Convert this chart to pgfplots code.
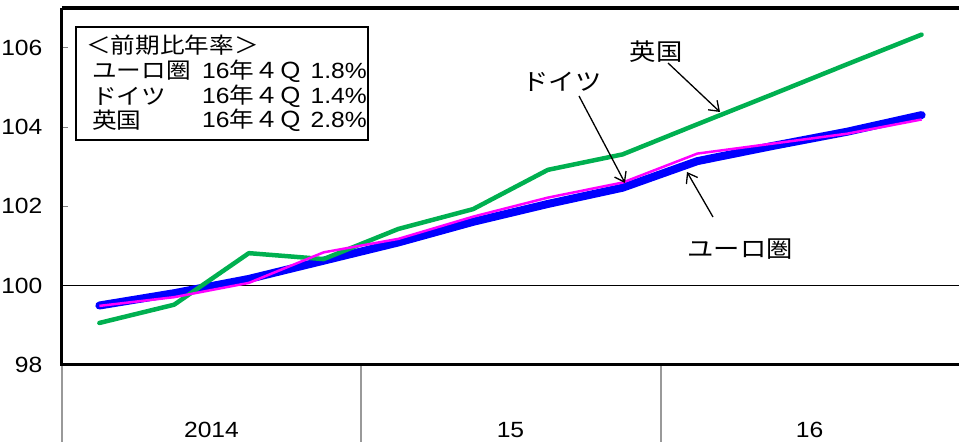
\documentclass[border=0pt]{standalone}
\usepackage{fontspec}
\setmainfont{Liberation Sans}
\newfontfamily\jp{Noto Sans CJK JP}
\usepackage{pgfplots}
\usepackage{pgfplotstable}
\pgfplotsset{compat=1.18}
\usetikzlibrary{arrows.meta}

\definecolor{ukgreen}{HTML}{00B050}
\definecolor{eublue}{HTML}{0000FF}
\definecolor{demag}{HTML}{FF00FF}
\newcommand\lf{\fontsize{22}{22}\selectfont}
\newcommand\af{\fontsize{23.5}{23.5}\selectfont}

% quarterly index, 2014Q1 ... 2016Q4
\pgfplotstableread{
x    ea     de     uk
0.5  99.50  99.49  99.06
1.5  99.81  99.71  99.52
2.5  100.17 100.07 100.82
3.5  100.63 100.84 100.67
4.5  101.09 101.18 101.43
5.5  101.61 101.74 101.93
6.5  102.06 102.22 102.92
7.5  102.47 102.60 103.31
8.5  103.14 103.33 104.07
9.5  103.52 103.58 104.82
10.5 103.88 103.83 105.58
11.5 104.30 104.19 106.33
}\data

\begin{document}
\begin{tikzpicture}[x=1pt,y=1pt]
\useasboundingbox (-62,-77) rectangle (897,365);
\begin{axis}[
  at={(0,0)}, anchor=south west,
  scale only axis, width=897pt, height=357pt,
  xmin=0, xmax=12, ymin=98, ymax=107,
  axis line style={draw=none},
  xtick={2,6,10}, xticklabels={2014,15,16},
  xtick style={draw=none},
  xticklabel style={anchor=base, yshift=-72pt},
  ytick={98,100,102,104,106},
  ytick pos=left,
  ytick style={gray, line width=1pt},
  major tick length=6pt,
  tick align=inside,
  yticklabel style={anchor=east, xshift=-14pt},
  tick label style={font=\lf, xscale=1.12},
  /pgf/number format/assume math mode=true,
  clip=false,
]
\draw[black, line width=1.3pt] (axis cs:0,100) -- (axis cs:12,100);
\addplot[eublue, mark=none, line width=8pt, line cap=round, line join=round] table[x=x,y=ea]{\data};
\addplot[ukgreen, mark=none, line width=4.5pt, line cap=round, line join=round] table[x=x,y=uk]{\data};
\addplot[demag, mark=none, line width=2.5pt, line join=round] table[x=x,y=de]{\data};
\end{axis}

% frame, separators and labels in pixel coordinates
\begin{scope}[shift={(-62,365)}, y=-1pt]
  \draw[line width=3.5pt] (62,8) -- (959,8);
  \draw[line width=3pt] (62,8) -- (62,365) -- (959,365);
  \foreach \xx in {62,361,661} \draw[gray!80, line width=1.2pt] (\xx,366.5) -- (\xx,442);

  \draw[line width=1.5pt, fill=white] (76,27) rectangle (368,140);
  \begin{scope}[every node/.style={font=\lf, xscale=1.12, inner sep=0pt}]
    \node[anchor=west] at (86,45) {\jp ＜前期比年率＞};
    \node[anchor=west] at (92,71) {\jp ユーロ圏};
    \node[anchor=west] at (92,96) {\jp ドイツ};
    \node[anchor=west] at (92,120) {\jp 英国};
    \node[anchor=west] at (202,71) {16{\jp 年４Ｑ}};
    \node[anchor=west] at (202,96) {16{\jp 年４Ｑ}};
    \node[anchor=west] at (202,120) {16{\jp 年４Ｑ}};
    \node[anchor=east] at (367,71) {1.8\%};
    \node[anchor=east] at (367,96) {1.4\%};
    \node[anchor=east] at (367,120) {2.8\%};
  \end{scope}
  \begin{scope}[every node/.style={font=\af, xscale=1.12, inner sep=0pt}]
    \node at (656,52) {\jp 英国};
    \node at (562,82) {\jp ドイツ};
    \node at (740,249) {\jp ユーロ圏};
  \end{scope}
  \begin{scope}[line width=1.3pt, -{Straight Barb[length=9pt,width=13pt]}]
    \draw (668,63) -- (720,112);
    \draw (579,96) -- (625,183);
    \draw (713,217) -- (687,172);
  \end{scope}
\end{scope}
\end{tikzpicture}
\end{document}
